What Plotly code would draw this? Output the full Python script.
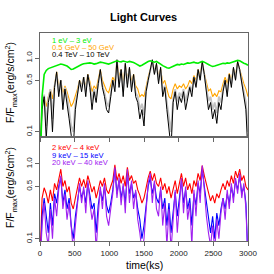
import numpy as np
import plotly.graph_objects as go

time_ks = np.arange(0, 3001, 30)

green_1eV_3eV = [0.02, 0.3, 0.6, 0.68, 0.72, 0.74, 0.76, 0.78, 0.8, 0.82, 0.83, 0.82, 0.8, 0.78, 0.74, 0.7, 0.71, 0.74, 0.77, 0.8,
                 0.82, 0.84, 0.85, 0.84, 0.86, 0.85, 0.83, 0.84, 0.86, 0.88, 0.87, 0.85, 0.84, 0.83, 0.85, 0.88, 0.9, 0.92, 0.9, 0.89,
                 0.91, 0.9, 0.88, 0.9, 0.89, 0.87, 0.84, 0.8, 0.78, 0.8, 0.84, 0.87, 0.9, 0.92, 0.9, 0.88, 0.9, 0.87, 0.83, 0.79,
                 0.76, 0.74, 0.73, 0.75, 0.78, 0.8, 0.82, 0.81, 0.83, 0.82, 0.84, 0.86, 0.85, 0.86, 0.88, 0.86, 0.85, 0.88, 0.9, 0.88,
                 0.84, 0.82, 0.79, 0.77, 0.78, 0.8, 0.82, 0.83, 0.85, 0.84, 0.86, 0.85, 0.87, 0.88, 0.9, 0.93, 0.92, 0.88, 0.85, 0.83, 0.8]

orange_GeV = [0.05, 0.25, 0.3, 0.22, 0.3, 0.38, 0.28, 0.45, 0.65, 0.4, 0.5, 0.33, 0.42, 0.35, 0.28, 0.22, 0.25, 0.3, 0.38, 0.5,
              0.42, 0.55, 0.4, 0.6, 0.48, 0.35, 0.42, 0.38, 0.5, 0.7, 0.5, 0.42, 0.36, 0.34, 0.42, 0.55, 0.48, 0.92, 0.55, 0.7,
              0.45, 0.82, 0.52, 0.72, 0.48, 0.6, 0.42, 0.38, 0.3, 0.32, 0.3, 0.42, 0.55, 0.7, 0.9, 0.65, 0.82, 0.55, 0.72, 0.45,
              0.5, 0.38, 0.3, 0.28, 0.38, 0.45, 0.38, 0.42, 0.4, 0.45, 0.38, 0.42, 0.5, 0.45, 0.58, 0.5, 0.7, 0.58, 0.88, 0.62,
              0.45, 0.36, 0.38, 0.3, 0.33, 0.3, 0.36, 0.35, 0.45, 0.55, 0.45, 0.62, 0.5, 0.72, 0.58, 0.88, 0.7, 0.55, 0.45, 0.38, 0.3]

gray_TeV_shadow = [0.05, 0.22, 0.32, 0.12, 0.28, 0.38, 0.15, 0.42, 0.6, 0.35, 0.5, 0.25, 0.4, 0.3, 0.2, 0.12, 0.1, 0.24, 0.33, 0.48,
                   0.4, 0.55, 0.35, 0.58, 0.42, 0.26, 0.38, 0.3, 0.45, 0.65, 0.42, 0.34, 0.25, 0.22, 0.32, 0.5, 0.4, 0.9, 0.45, 0.68,
                   0.35, 0.8, 0.45, 0.72, 0.4, 0.58, 0.34, 0.3, 0.2, 0.24, 0.17, 0.36, 0.5, 0.68, 0.9, 0.62, 0.8, 0.5, 0.7, 0.35,
                   0.42, 0.25, 0.15, 0.1, 0.28, 0.38, 0.26, 0.34, 0.3, 0.38, 0.26, 0.33, 0.42, 0.35, 0.55, 0.42, 0.68, 0.52, 0.85, 0.6,
                   0.4, 0.26, 0.3, 0.2, 0.25, 0.18, 0.3, 0.25, 0.38, 0.5, 0.35, 0.58, 0.45, 0.72, 0.52, 0.85, 0.68, 0.48, 0.35, 0.25, 0.1]

black_TeV = [0.05, 0.2, 0.3, 0.08, 0.25, 0.35, 0.1, 0.4, 0.65, 0.3, 0.5, 0.2, 0.38, 0.25, 0.15, 0.09, 0.06, 0.2, 0.3, 0.5,
             0.35, 0.55, 0.3, 0.6, 0.4, 0.2, 0.35, 0.25, 0.45, 0.7, 0.4, 0.3, 0.2, 0.18, 0.3, 0.5, 0.35, 0.95, 0.4, 0.7,
             0.3, 0.85, 0.4, 0.75, 0.35, 0.6, 0.3, 0.25, 0.15, 0.2, 0.12, 0.35, 0.5, 0.7, 0.95, 0.6, 0.85, 0.45, 0.75, 0.3,
             0.4, 0.2, 0.1, 0.06, 0.25, 0.35, 0.2, 0.3, 0.25, 0.35, 0.2, 0.28, 0.4, 0.3, 0.55, 0.4, 0.7, 0.5, 0.9, 0.6,
             0.35, 0.2, 0.25, 0.15, 0.2, 0.13, 0.25, 0.2, 0.35, 0.5, 0.3, 0.6, 0.4, 0.75, 0.5, 0.9, 0.7, 0.45, 0.3, 0.2, 0.05]

red_2_4keV = [0.05, 0.35, 0.48, 0.4, 0.3, 0.45, 0.32, 0.55, 0.45, 0.65, 0.85, 0.5, 0.6, 0.42, 0.5, 0.3, 0.25, 0.35, 0.5, 0.65,
              0.5, 0.62, 0.48, 0.7, 0.55, 0.42, 0.5, 0.35, 0.45, 0.6, 0.5, 0.65, 0.45, 0.4, 0.5, 0.6, 0.97, 0.6, 0.75, 0.55,
              0.7, 0.5, 0.9, 0.6, 0.7, 0.55, 0.6, 0.45, 0.38, 0.3, 0.35, 0.5, 0.65, 0.8, 0.6, 0.75, 0.55, 0.5, 0.65, 0.45,
              0.55, 0.4, 0.5, 0.35, 0.45, 0.6, 0.4, 0.55, 0.75, 0.5, 0.65, 0.45, 0.55, 0.4, 0.6, 0.5, 0.75, 0.6, 0.95, 0.7,
              0.55, 0.4, 0.32, 0.38, 0.3, 0.4, 0.35, 0.45, 0.55, 0.45, 0.6, 0.5, 0.7, 0.55, 0.8, 0.65, 0.85, 0.6, 0.7, 0.5, 0.45]

blue_9_15keV = [0.04, 0.2, 0.35, 0.2, 0.12, 0.3, 0.15, 0.4, 0.3, 0.5, 0.65, 0.3, 0.45, 0.25, 0.35, 0.15, 0.1, 0.2, 0.35, 0.5,
                0.35, 0.45, 0.3, 0.55, 0.38, 0.25, 0.3, 0.12, 0.28, 0.45, 0.32, 0.5, 0.28, 0.22, 0.3, 0.45, 0.85, 0.4, 0.6, 0.35,
                0.5, 0.3, 0.75, 0.4, 0.55, 0.35, 0.42, 0.25, 0.18, 0.1, 0.15, 0.3, 0.5, 0.65, 0.4, 0.55, 0.35, 0.3, 0.45, 0.25,
                0.35, 0.15, 0.3, 0.12, 0.25, 0.42, 0.2, 0.35, 0.6, 0.3, 0.45, 0.25, 0.35, 0.15, 0.4, 0.28, 0.55, 0.4, 0.85, 0.5,
                0.3, 0.18, 0.12, 0.2, 0.1, 0.22, 0.15, 0.25, 0.35, 0.25, 0.4, 0.3, 0.5, 0.35, 0.6, 0.45, 0.7, 0.4, 0.5, 0.3, 0.05]

purple_20_40keV = [0.04, 0.15, 0.3, 0.12, 0.08, 0.25, 0.1, 0.35, 0.2, 0.45, 0.7, 0.25, 0.4, 0.18, 0.3, 0.1, 0.07, 0.15, 0.3, 0.55,
                   0.3, 0.5, 0.22, 0.6, 0.3, 0.18, 0.25, 0.07, 0.2, 0.5, 0.25, 0.55, 0.2, 0.15, 0.25, 0.4, 0.9, 0.35, 0.65, 0.28,
                   0.55, 0.22, 0.85, 0.3, 0.6, 0.25, 0.45, 0.18, 0.12, 0.07, 0.1, 0.25, 0.55, 0.75, 0.3, 0.6, 0.25, 0.2, 0.5, 0.15,
                   0.3, 0.08, 0.25, 0.07, 0.2, 0.45, 0.12, 0.3, 0.65, 0.22, 0.5, 0.18, 0.3, 0.08, 0.45, 0.2, 0.6, 0.3, 0.95, 0.45,
                   0.2, 0.12, 0.08, 0.15, 0.07, 0.18, 0.1, 0.22, 0.35, 0.18, 0.45, 0.25, 0.55, 0.3, 0.65, 0.4, 0.75, 0.35, 0.55, 0.25, 0.05]

top_labels = ["1 eV – 3 eV", "0.5 GeV – 50 GeV", "0.4 TeV – 10 TeV"]
top_colors = ["#00ee00", "#ffa500", "#000000"]
bot_labels = ["2 keV – 4 keV", "9 keV – 15 keV", "20 keV – 40 keV"]
bot_colors = ["#ff0000", "#0000ff", "#a020f0"]

x_ticks = [0, 500, 1000, 1500, 2000, 2500, 3000]
y_ticks = [0.1, 0.5, 1.0]
y_ticktext = ["0.1", "0.5", "1.0"]

FONT = "Liberation Sans, Arial, sans-serif"

fig = go.Figure()

top_series = [orange_GeV, gray_TeV_shadow, black_TeV, green_1eV_3eV]
top_series_colors = [top_colors[1], "#c4c4c4", top_colors[2], top_colors[0]]
top_widths = [1.1, 1.8, 1.0, 1.6]
for ys, c, w in zip(top_series, top_series_colors, top_widths):
    fig.add_trace(go.Scatter(x=time_ks, y=ys, mode="lines", line=dict(color=c, width=w),
                             xaxis="x", yaxis="y", showlegend=False))

for ys, c in zip([red_2_4keV, blue_9_15keV, purple_20_40keV], bot_colors):
    fig.add_trace(go.Scatter(x=time_ks, y=ys, mode="lines", line=dict(color=c, width=1.1),
                             xaxis="x2", yaxis="y2", showlegend=False))

axis_common = dict(showgrid=False, zeroline=False, showline=True, linecolor="#666666", linewidth=1,
                   mirror=True, ticks="outside", ticklen=4, tickcolor="#666666",
                   tickfont=dict(family=FONT, size=8, color="#222222"))

fig.update_layout(
    width=274, height=274,
    margin=dict(l=40, r=26, t=33, b=33),
    paper_bgcolor="white", plot_bgcolor="white",
    xaxis=dict(domain=[0, 1], range=[0, 3000], anchor="y", tickvals=x_ticks, showticklabels=False, **axis_common),
    yaxis=dict(domain=[0.5, 1], type="log", range=[-1.07, 0.34], anchor="x", tickvals=y_ticks,
               ticktext=y_ticktext, tickangle=-90, **axis_common),
    xaxis2=dict(domain=[0, 1], range=[0, 3000], anchor="y2", tickvals=x_ticks, **axis_common),
    yaxis2=dict(domain=[0, 0.5], type="log", range=[-1.03, 0.36], anchor="x2", tickvals=y_ticks,
                ticktext=y_ticktext, tickangle=-90, **axis_common),
)


def py(px):
    return (241 - px) / 208


ann = [dict(text="<b>Light Curves</b>", x=(143 - 40) / 208, y=py(17), xref="paper", yref="paper",
            showarrow=False, xanchor="center", yanchor="middle",
            font=dict(family=FONT, size=11, color="black"))]

for i, (lab, c) in enumerate(zip(top_labels, top_colors)):
    ann.append(dict(text=lab, x=(50 - 40) / 208, y=py(40 + 7.2 * i), xref="paper", yref="paper",
                    xanchor="left", yanchor="middle", showarrow=False,
                    font=dict(family=FONT, size=7.6, color=c)))
for i, (lab, c) in enumerate(zip(bot_labels, bot_colors)):
    ann.append(dict(text=lab, x=(50 - 40) / 208, y=py(147.5 + 7.5 * i), xref="paper", yref="paper",
                    xanchor="left", yanchor="middle", showarrow=False,
                    font=dict(family=FONT, size=7.6, color=c)))

ytitle = "F/F<sub>max</sub>(erg/s/cm<sup>2</sup>)"
for ypx in (83, 188):
    ann.append(dict(text=ytitle, x=(11 - 40) / 208, y=py(ypx), xref="paper", yref="paper",
                    textangle=-90, showarrow=False, xanchor="center", yanchor="middle",
                    font=dict(family=FONT, size=10.5, color="black")))

ann.append(dict(text="time(ks)", x=(144 - 40) / 208, y=py(265), xref="paper", yref="paper", showarrow=False,
                xanchor="center", yanchor="middle", font=dict(family=FONT, size=10.5, color="black")))

fig.update_layout(annotations=ann)

fig.write_html("out.html", config={"displayModeBar": False},
               post_script="document.body.style.margin='0';document.body.style.overflow='hidden';")
